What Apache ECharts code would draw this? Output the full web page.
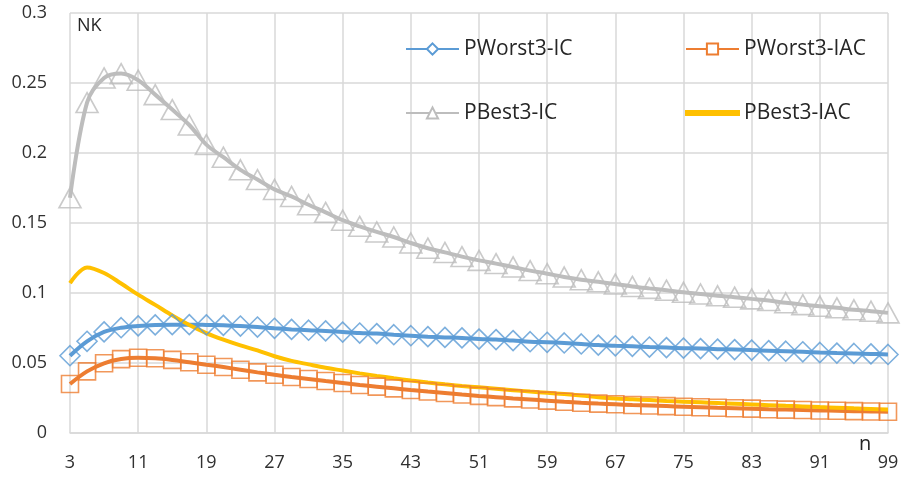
<!DOCTYPE html>
<html>
<head>
<meta charset="UTF-8">
<title>NK chart</title>
<script src="https://cdn.jsdelivr.net/npm/echarts@6/dist/echarts.min.js"></script>
<style>
  html, body { margin: 0; padding: 0; background: #fff; }
  #main { width: 902px; height: 478px; }
</style>
</head>
<body>
<div id="main"></div>
<script type="text/javascript">
// x categories (n)
var categories = [3, 5, 7, 9, 11, 13, 15, 17, 19, 21, 23, 25, 27, 29, 31, 33, 35, 37, 39, 41,
  43, 45, 47, 49, 51, 53, 55, 57, 59, 61, 63, 65, 67, 69, 71, 73, 75, 77, 79, 81,
  83, 85, 87, 89, 91, 93, 95, 97, 99];

var yTicks = [0, 0.05, 0.1, 0.15, 0.2, 0.25, 0.3];

var pWorstIC = [0.0552, 0.0655, 0.0722, 0.0752, 0.0765, 0.0772, 0.0774, 0.0774, 0.0772, 0.0769,
  0.0764, 0.0757, 0.0748, 0.0740, 0.0734, 0.0729, 0.0721, 0.0714, 0.0710, 0.0702,
  0.0695, 0.0688, 0.0683, 0.0679, 0.0671, 0.0667, 0.0660, 0.0652, 0.0648, 0.0643,
  0.0636, 0.0628, 0.0623, 0.0619, 0.0614, 0.0610, 0.0606, 0.0603, 0.0599, 0.0596,
  0.0592, 0.0588, 0.0584, 0.0580, 0.0575, 0.0571, 0.0568, 0.0565, 0.0561];

var pWorstIAC = [0.0350, 0.0440, 0.0498, 0.0528, 0.0537, 0.0534, 0.0522, 0.0505, 0.0488, 0.0471,
  0.0452, 0.0433, 0.0416, 0.0400, 0.0386, 0.0371, 0.0357, 0.0343, 0.0331, 0.0319,
  0.0307, 0.0296, 0.0286, 0.0275, 0.0265, 0.0256, 0.0247, 0.0239, 0.0231, 0.0223,
  0.0216, 0.0210, 0.0205, 0.0200, 0.0196, 0.0192, 0.0188, 0.0184, 0.0180, 0.0177,
  0.0174, 0.0170, 0.0167, 0.0164, 0.0161, 0.0159, 0.0156, 0.0154, 0.0152];

var pBestIC = [0.1680, 0.2360, 0.2536, 0.2567, 0.2520, 0.2417, 0.2310, 0.2200, 0.2060, 0.1970,
  0.1880, 0.1810, 0.1740, 0.1690, 0.1630, 0.1576, 0.1520, 0.1476, 0.1436, 0.1400,
  0.1357, 0.1320, 0.1290, 0.1260, 0.1233, 0.1210, 0.1186, 0.1160, 0.1138, 0.1114,
  0.1095, 0.1080, 0.1064, 0.1047, 0.1033, 0.1020, 0.1005, 0.0993, 0.0980, 0.0970,
  0.0958, 0.0946, 0.0930, 0.0917, 0.0906, 0.0894, 0.0880, 0.0870, 0.0858];

var pBestIAC = [0.1070, 0.1183, 0.1143, 0.1068, 0.0988, 0.0915, 0.0840, 0.0772, 0.0714, 0.0667,
  0.0626, 0.0590, 0.0548, 0.0515, 0.0490, 0.0466, 0.0446, 0.0426, 0.0408, 0.0391,
  0.0375, 0.0361, 0.0348, 0.0336, 0.0326, 0.0316, 0.0306, 0.0296, 0.0287, 0.0278,
  0.0268, 0.0256, 0.0247, 0.0241, 0.0235, 0.0229, 0.0224, 0.0219, 0.0214, 0.0209,
  0.0204, 0.0199, 0.0194, 0.0190, 0.0185, 0.0181, 0.0176, 0.0172, 0.0168];

var seriesNames = ['PWorst3-IC', 'PWorst3-IAC', 'PBest3-IC', 'PBest3-IAC'];

var FONT = '"Open Sans", sans-serif';
var gridColor = '#d9d9d9';
var textColor = '#303030';

var myChart = echarts.init(document.getElementById('main'));

// smoothed line (symbol kept only for the legend key)
function smoothLine(name, data, color, symbol) {
  return {
    name: name,
    type: 'line',
    data: data,
    smooth: 0.35,
    symbol: symbol,
    symbolSize: 11,
    showSymbol: false,
    lineStyle: { color: color, width: 4 },
    itemStyle: { color: '#fff', borderColor: color, borderWidth: 1.5 },
    emphasis: { disabled: true },
    z: 2
  };
}

// hollow markers on every point, drawn over the line
function markers(name, data, color, symbol, size) {
  return {
    name: name + ' markers',
    type: 'scatter',
    data: data,
    symbol: symbol,
    symbolSize: size,
    itemStyle: { color: 'rgba(255,255,255,0)', borderColor: color, borderWidth: 1.6 },
    emphasis: { disabled: true },
    silent: true,
    z: 3
  };
}

function oneLegend(name, left, top, extra) {
  var lg = {
    data: [name],
    left: left,
    top: top,
    itemWidth: 53,
    itemHeight: 14,
    itemGap: 0,
    padding: 0,
    selectedMode: false,
    textStyle: { fontFamily: FONT, fontSize: 21, color: '#262626', lineHeight: 24 }
  };
  if (extra) {
    for (var k in extra) lg[k] = extra[k];
  }
  return lg;
}

var option = {
  animation: false,
  grid: { left: 70, right: 14, top: 13, bottom: 45 },
  legend: [
    oneLegend(seriesNames[0], 405, 37),
    oneLegend(seriesNames[1], 685, 37),
    oneLegend(seriesNames[2], 405, 101),
    // yellow series has no markers: a plain line as its key
    oneLegend(seriesNames[3], 685, 101, {
      data: [{ name: seriesNames[3], icon: 'rect' }],
      itemHeight: 4,
      itemStyle: { color: '#FFC000' }
    })
  ],
  xAxis: {
    type: 'category',
    data: categories,
    boundaryGap: false,
    axisLine: { show: true, lineStyle: { color: gridColor, width: 1.5 } },
    axisTick: { show: false },
    axisLabel: { interval: 3, margin: 21, fontFamily: FONT, fontSize: 18, color: textColor },
    splitLine: { show: true, interval: 3, lineStyle: { color: gridColor, width: 1.5 } }
  },
  yAxis: {
    type: 'value',
    min: yTicks[0],
    max: yTicks[yTicks.length - 1],
    interval: 0.05,
    axisLine: { show: false },
    axisTick: { show: false },
    axisLabel: {
      margin: 23, fontFamily: FONT, fontSize: 18, color: textColor,
      formatter: function (v) { return String(+v.toFixed(2)); }
    },
    splitLine: { lineStyle: { color: gridColor, width: 1.5 } }
  },
  graphic: [
    { type: 'text', left: 77, top: 17, style: { text: 'NK', font: '18px "Open Sans", sans-serif', fill: '#262626' } },
    { type: 'text', left: 859, top: 434, style: { text: 'n', font: '20px "Open Sans", sans-serif', fill: '#262626' } }
  ],
  series: [
    smoothLine(seriesNames[0], pWorstIC, '#5B9BD5', 'diamond'),
    markers(seriesNames[0], pWorstIC, '#5B9BD5', 'diamond', 20),
    smoothLine(seriesNames[1], pWorstIAC, '#ED7D31', 'rect'),
    markers(seriesNames[1], pWorstIAC, '#ED7D31', 'rect', 17),
    smoothLine(seriesNames[2], pBestIC, '#BDBDBD', 'triangle'),
    markers(seriesNames[2], pBestIC, '#BDBDBD', 'triangle', [22, 20]),
    smoothLine(seriesNames[3], pBestIAC, '#FFC000', 'none')
  ]
};

myChart.setOption(option);
</script>
</body>
</html>
